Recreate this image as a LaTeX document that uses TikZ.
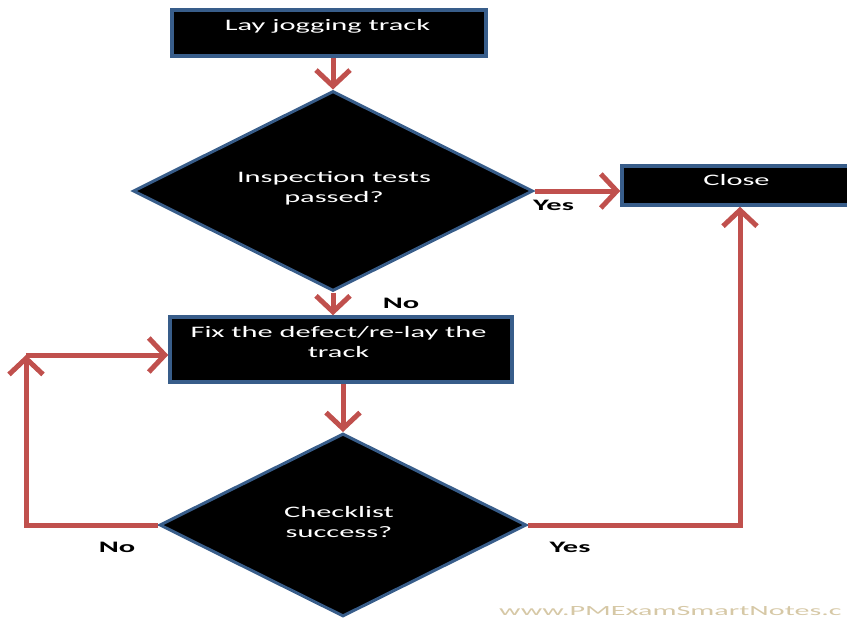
\documentclass[tikz,border=0pt]{standalone}
\usepackage{fontspec}
\setmainfont{Carlito}
\newfontfamily\flowfont{Carlito}[FakeStretch=1.9]
\newfontfamily\markfont{Carlito}[FakeStretch=2.15]
\usetikzlibrary{shapes.geometric,arrows.meta}
\definecolor{boxedge}{HTML}{385D8A}
\definecolor{flowred}{HTML}{C0504D}
\definecolor{marktan}{HTML}{D6C8A6}

\begin{document}
\begin{tikzpicture}[x=1pt,y=-1pt,
  stepbox/.style={draw=boxedge, line width=3.5pt, fill=black, rectangle, inner sep=0pt},
  decision/.style={draw=boxedge, line width=3pt, fill=black, diamond, inner sep=0pt},
  flowtext/.style={text=white, font=\flowfont\fontsize{16}{20.5}\selectfont, align=center, inner sep=0pt},
  answer/.style={text=black, font=\flowfont\bfseries\fontsize{16}{20}\selectfont, inner sep=0pt},
  flow/.style={draw=flowred, line width=5pt, -{Straight Barb[length=16pt,width=34pt]}},
]
\useasboundingbox (0,0) rectangle (847,619);
\clip (0,0) rectangle (847,619);

% process boxes and decisions (text nodes are placed by their last baseline)
\node[stepbox, minimum width=314pt, minimum height=46pt] (lay) at (329,33) {};
\node[flowtext, anchor=base] (layt) at (327.5,30.5) {Lay jogging track};

\node[decision, minimum width=400pt, minimum height=200pt] (insp) at (333,191) {};
\node[flowtext, anchor=base] (inspt) at (334,202.5) {Inspection tests\\passed?};

\node[stepbox, minimum width=250pt, minimum height=39pt] (close) at (747,185.5) {};
\node[flowtext, anchor=base] (closet) at (736.5,185) {Close};

\node[stepbox, minimum width=342pt, minimum height=65pt] (fix) at (341,349.5) {};
\node[flowtext, anchor=base] (fixt) at (338.5,357.5) {Fix the defect/re-lay the\\track};

\node[decision, minimum width=367pt, minimum height=183pt] (check) at (343,525) {};
\node[flowtext, anchor=base] (checkt) at (339,537.5) {Checklist\\success?};

% connectors
\draw[flow] (insp.north |- lay.south) -- (insp.north);
\draw[flow] (insp.east) -- (insp.east -| close.west);
\draw[flow] (insp.south) -- (insp.south |- fix.north);
\draw[flow] (check.north |- fix.south) -- (check.north);
\coordinate (loopcorner) at (26,355);
\draw[flow] (check.west) -| (loopcorner);
\draw[flow] (loopcorner) -- (loopcorner -| fix.west);
\draw[flow] (check.east) -| ([xshift=-7pt]close.south);

% branch labels
\node[answer, anchor=base] (yes1) at (553.5,210) {Yes};
\node[answer, anchor=base] (no1) at (401,308) {No};
\node[answer, anchor=base] (no2) at (117,552) {No};
\node[answer, anchor=base] (yes2) at (570,552) {Yes};

% site mark
\node[anchor=base west, inner sep=0pt, text=marktan, font=\markfont\fontsize{14}{14}\selectfont] (mark) at (499,615) {www.PMExamSmartNotes.c};
\end{tikzpicture}
\end{document}
